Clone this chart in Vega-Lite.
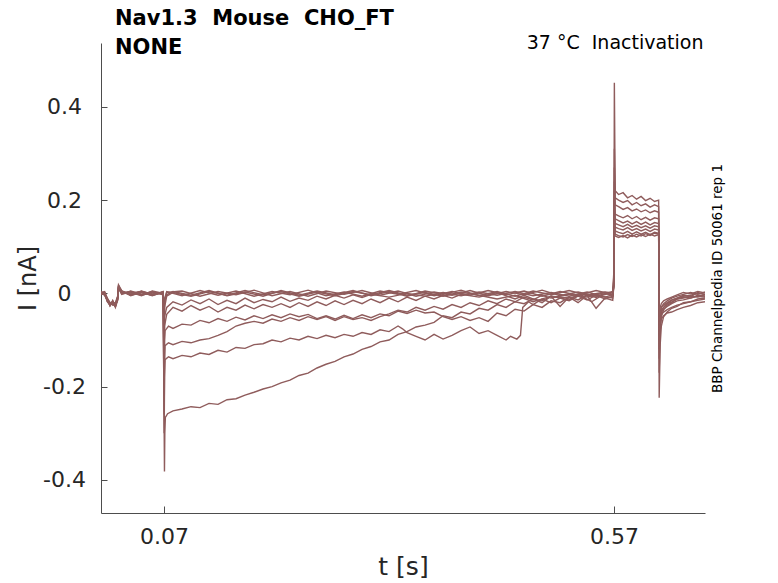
{
  "$schema": "https://vega.github.io/schema/vega-lite/v6.json",
  "width": 604,
  "height": 470,
  "autosize": {"type": "none"},
  "padding": {"left": 101, "top": 43, "right": 73, "bottom": 70},
  "background": "white",
  "config": {
    "font": "DejaVu Sans",
    "view": {"stroke": null},
    "axis": {"grid": false, "domainColor": "#4d4d4d", "tickColor": "#4d4d4d", "labelColor": "#262626", "titleColor": "#262626", "titleFontWeight": "normal"}
  },
  "title": {
    "text": ["Nav1.3\u00a0\u00a0Mouse\u00a0\u00a0CHO_FT", "NONE"],
    "anchor": "start",
    "frame": "group",
    "dx": 14,
    "offset": -42,
    "baseline": "alphabetic",
    "lineHeight": 29,
    "fontSize": 21,
    "fontWeight": "bold",
    "color": "#000000"
  },
  "datasets": {
    "sweeps": [
      {"s":1,"t":0,"i":0.002},{"s":1,"t":0.004,"i":-0.001},{"s":1,"t":0.007,"i":-0.014},{"s":1,"t":0.01,"i":-0.024},{"s":1,"t":0.013,"i":-0.017},{"s":1,"t":0.016,"i":-0.028},{"s":1,"t":0.0185,"i":-0.012},{"s":1,"t":0.0195,"i":0.014},{"s":1,"t":0.023,"i":0.004},{"s":1,"t":0.033,"i":-0.002},{"s":1,"t":0.045,"i":0.004},{"s":1,"t":0.057,"i":-0.003},{"s":1,"t":0.069,"i":0.002},
      {"s":1,"t":0.0702,"i":-0.03},{"s":1,"t":0.0706,"i":-0.012},{"s":1,"t":0.073,"i":0.004},{"s":1,"t":0.09,"i":-0.005},{"s":1,"t":0.11,"i":0.006},{"s":1,"t":0.13,"i":-0.004},{"s":1,"t":0.15,"i":0.005},{"s":1,"t":0.17,"i":-0.006},{"s":1,"t":0.19,"i":0.004},{"s":1,"t":0.21,"i":-0.003},{"s":1,"t":0.23,"i":0.007},{"s":1,"t":0.25,"i":-0.005},{"s":1,"t":0.27,"i":0.003},{"s":1,"t":0.29,"i":-0.006},{"s":1,"t":0.31,"i":0.005},{"s":1,"t":0.33,"i":-0.002},{"s":1,"t":0.35,"i":0.006},{"s":1,"t":0.37,"i":-0.005},{"s":1,"t":0.39,"i":0.004},{"s":1,"t":0.41,"i":-0.004},{"s":1,"t":0.43,"i":0.006},{"s":1,"t":0.45,"i":-0.003},{"s":1,"t":0.47,"i":0.005},{"s":1,"t":0.49,"i":-0.006},{"s":1,"t":0.51,"i":0.004},{"s":1,"t":0.53,"i":-0.004},{"s":1,"t":0.55,"i":0.006},{"s":1,"t":0.5685,"i":-0.002},
      {"s":1,"t":0.5698,"i":0.05},{"s":1,"t":0.5703,"i":0.452},{"s":1,"t":0.5712,"i":0.22},{"s":1,"t":0.575,"i":0.212},{"s":1,"t":0.58,"i":0.216},{"s":1,"t":0.585,"i":0.205},{"s":1,"t":0.59,"i":0.21},{"s":1,"t":0.595,"i":0.202},{"s":1,"t":0.6,"i":0.208},{"s":1,"t":0.605,"i":0.199},{"s":1,"t":0.61,"i":0.204},{"s":1,"t":0.615,"i":0.197},{"s":1,"t":0.6195,"i":0.2},
      {"s":1,"t":0.6201,"i":-0.224},{"s":1,"t":0.6212,"i":-0.11},{"s":1,"t":0.6225,"i":-0.07},{"s":1,"t":0.625,"i":-0.05},{"s":1,"t":0.629,"i":-0.04},{"s":1,"t":0.634,"i":-0.032},{"s":1,"t":0.64,"i":-0.028},{"s":1,"t":0.647,"i":-0.02},{"s":1,"t":0.655,"i":-0.018},{"s":1,"t":0.663,"i":-0.012},{"s":1,"t":0.671,"i":-0.01},

      {"s":2,"t":0,"i":-0.002},{"s":2,"t":0.004,"i":0.003},{"s":2,"t":0.007,"i":-0.01},{"s":2,"t":0.01,"i":-0.02},{"s":2,"t":0.013,"i":-0.022},{"s":2,"t":0.016,"i":-0.024},{"s":2,"t":0.0185,"i":-0.008},{"s":2,"t":0.0195,"i":0.01},{"s":2,"t":0.023,"i":0.001},{"s":2,"t":0.033,"i":0.004},{"s":2,"t":0.045,"i":-0.003},{"s":2,"t":0.057,"i":0.003},{"s":2,"t":0.069,"i":-0.002},
      {"s":2,"t":0.0702,"i":-0.05},{"s":2,"t":0.0706,"i":-0.015},{"s":2,"t":0.073,"i":-0.003},{"s":2,"t":0.08,"i":0.004},{"s":2,"t":0.1,"i":-0.004},{"s":2,"t":0.12,"i":0.006},{"s":2,"t":0.14,"i":-0.005},{"s":2,"t":0.16,"i":0.003},{"s":2,"t":0.18,"i":-0.006},{"s":2,"t":0.2,"i":0.006},{"s":2,"t":0.22,"i":-0.004},{"s":2,"t":0.24,"i":0.005},{"s":2,"t":0.26,"i":-0.003},{"s":2,"t":0.28,"i":0.006},{"s":2,"t":0.3,"i":-0.005},{"s":2,"t":0.32,"i":0.004},{"s":2,"t":0.34,"i":-0.006},{"s":2,"t":0.36,"i":0.005},{"s":2,"t":0.38,"i":-0.002},{"s":2,"t":0.4,"i":0.007},{"s":2,"t":0.42,"i":-0.005},{"s":2,"t":0.44,"i":0.004},{"s":2,"t":0.46,"i":-0.006},{"s":2,"t":0.48,"i":0.005},{"s":2,"t":0.5,"i":-0.003},{"s":2,"t":0.52,"i":0.006},{"s":2,"t":0.54,"i":-0.004},{"s":2,"t":0.56,"i":0.003},{"s":2,"t":0.5685,"i":0.001},
      {"s":2,"t":0.5698,"i":0.04},{"s":2,"t":0.5703,"i":0.31},{"s":2,"t":0.5712,"i":0.205},{"s":2,"t":0.575,"i":0.2},{"s":2,"t":0.58,"i":0.195},{"s":2,"t":0.585,"i":0.199},{"s":2,"t":0.59,"i":0.19},{"s":2,"t":0.595,"i":0.195},{"s":2,"t":0.6,"i":0.188},{"s":2,"t":0.605,"i":0.192},{"s":2,"t":0.61,"i":0.185},{"s":2,"t":0.615,"i":0.19},{"s":2,"t":0.6195,"i":0.186},
      {"s":2,"t":0.6201,"i":-0.17},{"s":2,"t":0.6212,"i":-0.08},{"s":2,"t":0.6225,"i":-0.05},{"s":2,"t":0.625,"i":-0.035},{"s":2,"t":0.629,"i":-0.025},{"s":2,"t":0.634,"i":-0.02},{"s":2,"t":0.64,"i":-0.012},{"s":2,"t":0.647,"i":-0.008},{"s":2,"t":0.655,"i":-0.01},{"s":2,"t":0.663,"i":-0.004},{"s":2,"t":0.671,"i":-0.006},

      {"s":3,"t":0,"i":0.004},{"s":3,"t":0.004,"i":0},{"s":3,"t":0.007,"i":-0.018},{"s":3,"t":0.01,"i":-0.026},{"s":3,"t":0.013,"i":-0.015},{"s":3,"t":0.016,"i":-0.03},{"s":3,"t":0.0185,"i":-0.015},{"s":3,"t":0.0195,"i":0.018},{"s":3,"t":0.023,"i":0.006},{"s":3,"t":0.033,"i":-0.004},{"s":3,"t":0.045,"i":0.002},{"s":3,"t":0.057,"i":-0.005},{"s":3,"t":0.069,"i":0.004},
      {"s":3,"t":0.0702,"i":-0.07},{"s":3,"t":0.0706,"i":-0.02},{"s":3,"t":0.073,"i":0.002},{"s":3,"t":0.09,"i":0.005},{"s":3,"t":0.11,"i":-0.006},{"s":3,"t":0.13,"i":0.004},{"s":3,"t":0.15,"i":-0.003},{"s":3,"t":0.17,"i":0.007},{"s":3,"t":0.19,"i":-0.005},{"s":3,"t":0.21,"i":0.004},{"s":3,"t":0.23,"i":-0.006},{"s":3,"t":0.25,"i":0.005},{"s":3,"t":0.27,"i":-0.002},{"s":3,"t":0.29,"i":0.006},{"s":3,"t":0.31,"i":-0.004},{"s":3,"t":0.33,"i":0.005},{"s":3,"t":0.35,"i":-0.006},{"s":3,"t":0.37,"i":0.003},{"s":3,"t":0.39,"i":-0.004},{"s":3,"t":0.41,"i":0.006},{"s":3,"t":0.43,"i":-0.005},{"s":3,"t":0.45,"i":0.004},{"s":3,"t":0.47,"i":-0.003},{"s":3,"t":0.49,"i":0.007},{"s":3,"t":0.51,"i":-0.005},{"s":3,"t":0.53,"i":0.003},{"s":3,"t":0.55,"i":-0.006},{"s":3,"t":0.5685,"i":0.004},
      {"s":3,"t":0.5698,"i":0.03},{"s":3,"t":0.5703,"i":0.27},{"s":3,"t":0.5712,"i":0.19},{"s":3,"t":0.575,"i":0.186},{"s":3,"t":0.58,"i":0.18},{"s":3,"t":0.585,"i":0.184},{"s":3,"t":0.59,"i":0.177},{"s":3,"t":0.595,"i":0.181},{"s":3,"t":0.6,"i":0.175},{"s":3,"t":0.605,"i":0.179},{"s":3,"t":0.61,"i":0.173},{"s":3,"t":0.615,"i":0.177},{"s":3,"t":0.6195,"i":0.174},
      {"s":3,"t":0.6201,"i":-0.14},{"s":3,"t":0.6212,"i":-0.06},{"s":3,"t":0.6225,"i":-0.04},{"s":3,"t":0.625,"i":-0.03},{"s":3,"t":0.629,"i":-0.022},{"s":3,"t":0.634,"i":-0.015},{"s":3,"t":0.64,"i":-0.01},{"s":3,"t":0.647,"i":-0.004},{"s":3,"t":0.655,"i":-0.007},{"s":3,"t":0.663,"i":0.002},{"s":3,"t":0.671,"i":-0.003},

      {"s":4,"t":0,"i":0},{"s":4,"t":0.004,"i":-0.003},{"s":4,"t":0.007,"i":-0.012},{"s":4,"t":0.01,"i":-0.02},{"s":4,"t":0.013,"i":-0.025},{"s":4,"t":0.016,"i":-0.02},{"s":4,"t":0.0185,"i":-0.006},{"s":4,"t":0.0195,"i":0.012},{"s":4,"t":0.023,"i":0},{"s":4,"t":0.033,"i":0.003},{"s":4,"t":0.045,"i":-0.004},{"s":4,"t":0.057,"i":0.002},{"s":4,"t":0.069,"i":-0.001},
      {"s":4,"t":0.0702,"i":-0.1},{"s":4,"t":0.0706,"i":-0.03},{"s":4,"t":0.073,"i":-0.006},{"s":4,"t":0.08,"i":0.002},{"s":4,"t":0.1,"i":-0.006},{"s":4,"t":0.12,"i":0.004},{"s":4,"t":0.14,"i":-0.004},{"s":4,"t":0.16,"i":0.006},{"s":4,"t":0.18,"i":-0.003},{"s":4,"t":0.2,"i":0.004},{"s":4,"t":0.22,"i":-0.006},{"s":4,"t":0.24,"i":0.003},{"s":4,"t":0.26,"i":-0.005},{"s":4,"t":0.28,"i":0.004},{"s":4,"t":0.3,"i":-0.003},{"s":4,"t":0.32,"i":0.006},{"s":4,"t":0.34,"i":-0.004},{"s":4,"t":0.36,"i":0.002},{"s":4,"t":0.38,"i":-0.006},{"s":4,"t":0.4,"i":0.003},{"s":4,"t":0.42,"i":-0.004},{"s":4,"t":0.44,"i":-0.012},{"s":4,"t":0.46,"i":-0.004},{"s":4,"t":0.48,"i":-0.018},{"s":4,"t":0.5,"i":-0.006},{"s":4,"t":0.51,"i":-0.028},{"s":4,"t":0.52,"i":-0.008},{"s":4,"t":0.53,"i":-0.02},{"s":4,"t":0.54,"i":-0.004},{"s":4,"t":0.55,"i":-0.032},{"s":4,"t":0.56,"i":-0.01},{"s":4,"t":0.5685,"i":-0.015},
      {"s":4,"t":0.5698,"i":0.02},{"s":4,"t":0.5703,"i":0.24},{"s":4,"t":0.5712,"i":0.17},{"s":4,"t":0.575,"i":0.166},{"s":4,"t":0.58,"i":0.162},{"s":4,"t":0.585,"i":0.167},{"s":4,"t":0.59,"i":0.16},{"s":4,"t":0.595,"i":0.165},{"s":4,"t":0.6,"i":0.158},{"s":4,"t":0.605,"i":0.163},{"s":4,"t":0.61,"i":0.157},{"s":4,"t":0.615,"i":0.162},{"s":4,"t":0.6195,"i":0.16},
      {"s":4,"t":0.6201,"i":-0.12},{"s":4,"t":0.6212,"i":-0.07},{"s":4,"t":0.6225,"i":-0.055},{"s":4,"t":0.625,"i":-0.048},{"s":4,"t":0.629,"i":-0.042},{"s":4,"t":0.634,"i":-0.04},{"s":4,"t":0.64,"i":-0.035},{"s":4,"t":0.647,"i":-0.03},{"s":4,"t":0.655,"i":-0.026},{"s":4,"t":0.663,"i":-0.02},{"s":4,"t":0.671,"i":-0.018},

      {"s":5,"t":0,"i":0.001},{"s":5,"t":0.004,"i":-0.004},{"s":5,"t":0.007,"i":-0.016},{"s":5,"t":0.01,"i":-0.022},{"s":5,"t":0.013,"i":-0.02},{"s":5,"t":0.016,"i":-0.026},{"s":5,"t":0.0185,"i":-0.01},{"s":5,"t":0.0195,"i":0.016},{"s":5,"t":0.023,"i":0.003},{"s":5,"t":0.033,"i":-0.003},{"s":5,"t":0.045,"i":0.005},{"s":5,"t":0.057,"i":-0.002},{"s":5,"t":0.069,"i":0.003},
      {"s":5,"t":0.0702,"i":-0.13},{"s":5,"t":0.0706,"i":-0.05},{"s":5,"t":0.073,"i":-0.03},{"s":5,"t":0.08,"i":-0.018},{"s":5,"t":0.09,"i":-0.025},{"s":5,"t":0.1,"i":-0.014},{"s":5,"t":0.11,"i":-0.022},{"s":5,"t":0.12,"i":-0.012},{"s":5,"t":0.13,"i":-0.024},{"s":5,"t":0.14,"i":-0.015},{"s":5,"t":0.15,"i":-0.022},{"s":5,"t":0.16,"i":-0.01},{"s":5,"t":0.17,"i":-0.02},{"s":5,"t":0.18,"i":-0.013},{"s":5,"t":0.19,"i":-0.018},{"s":5,"t":0.2,"i":-0.008},{"s":5,"t":0.21,"i":-0.017},{"s":5,"t":0.22,"i":-0.01},{"s":5,"t":0.23,"i":-0.015},{"s":5,"t":0.24,"i":-0.006},{"s":5,"t":0.25,"i":-0.012},{"s":5,"t":0.26,"i":-0.004},{"s":5,"t":0.27,"i":-0.01},{"s":5,"t":0.28,"i":-0.003},{"s":5,"t":0.29,"i":-0.009},{"s":5,"t":0.3,"i":-0.002},{"s":5,"t":0.32,"i":-0.008},{"s":5,"t":0.34,"i":0},{"s":5,"t":0.36,"i":-0.006},{"s":5,"t":0.38,"i":0.002},{"s":5,"t":0.4,"i":-0.005},{"s":5,"t":0.42,"i":0.003},{"s":5,"t":0.44,"i":-0.004},{"s":5,"t":0.46,"i":0.004},{"s":5,"t":0.48,"i":-0.005},{"s":5,"t":0.5,"i":0.002},{"s":5,"t":0.52,"i":-0.006},{"s":5,"t":0.54,"i":0.003},{"s":5,"t":0.555,"i":-0.005},{"s":5,"t":0.5685,"i":0.002},
      {"s":5,"t":0.5698,"i":0.02},{"s":5,"t":0.5703,"i":0.22},{"s":5,"t":0.5712,"i":0.16},{"s":5,"t":0.575,"i":0.156},{"s":5,"t":0.58,"i":0.151},{"s":5,"t":0.585,"i":0.155},{"s":5,"t":0.59,"i":0.149},{"s":5,"t":0.595,"i":0.154},{"s":5,"t":0.6,"i":0.148},{"s":5,"t":0.605,"i":0.153},{"s":5,"t":0.61,"i":0.147},{"s":5,"t":0.615,"i":0.152},{"s":5,"t":0.6195,"i":0.15},
      {"s":5,"t":0.6201,"i":-0.1},{"s":5,"t":0.6212,"i":-0.05},{"s":5,"t":0.6225,"i":-0.035},{"s":5,"t":0.625,"i":-0.03},{"s":5,"t":0.629,"i":-0.022},{"s":5,"t":0.634,"i":-0.018},{"s":5,"t":0.64,"i":-0.012},{"s":5,"t":0.647,"i":-0.01},{"s":5,"t":0.655,"i":-0.006},{"s":5,"t":0.663,"i":-0.008},{"s":5,"t":0.671,"i":-0.003},

      {"s":6,"t":0,"i":-0.003},{"s":6,"t":0.004,"i":0.002},{"s":6,"t":0.007,"i":-0.011},{"s":6,"t":0.01,"i":-0.025},{"s":6,"t":0.013,"i":-0.019},{"s":6,"t":0.016,"i":-0.022},{"s":6,"t":0.0185,"i":-0.009},{"s":6,"t":0.0195,"i":0.011},{"s":6,"t":0.023,"i":-0.002},{"s":6,"t":0.033,"i":0.005},{"s":6,"t":0.045,"i":-0.002},{"s":6,"t":0.057,"i":0.004},{"s":6,"t":0.069,"i":-0.003},
      {"s":6,"t":0.0702,"i":-0.16},{"s":6,"t":0.0706,"i":-0.07},{"s":6,"t":0.073,"i":-0.045},{"s":6,"t":0.08,"i":-0.03},{"s":6,"t":0.09,"i":-0.038},{"s":6,"t":0.1,"i":-0.026},{"s":6,"t":0.11,"i":-0.036},{"s":6,"t":0.12,"i":-0.028},{"s":6,"t":0.13,"i":-0.04},{"s":6,"t":0.14,"i":-0.03},{"s":6,"t":0.15,"i":-0.036},{"s":6,"t":0.16,"i":-0.025},{"s":6,"t":0.17,"i":-0.033},{"s":6,"t":0.18,"i":-0.024},{"s":6,"t":0.19,"i":-0.03},{"s":6,"t":0.2,"i":-0.022},{"s":6,"t":0.21,"i":-0.03},{"s":6,"t":0.22,"i":-0.02},{"s":6,"t":0.23,"i":-0.028},{"s":6,"t":0.24,"i":-0.018},{"s":6,"t":0.25,"i":-0.026},{"s":6,"t":0.26,"i":-0.016},{"s":6,"t":0.27,"i":-0.024},{"s":6,"t":0.28,"i":-0.015},{"s":6,"t":0.29,"i":-0.022},{"s":6,"t":0.3,"i":-0.012},{"s":6,"t":0.31,"i":-0.02},{"s":6,"t":0.32,"i":-0.01},{"s":6,"t":0.33,"i":-0.018},{"s":6,"t":0.34,"i":-0.008},{"s":6,"t":0.35,"i":-0.015},{"s":6,"t":0.36,"i":-0.006},{"s":6,"t":0.37,"i":-0.012},{"s":6,"t":0.38,"i":-0.004},{"s":6,"t":0.39,"i":-0.01},{"s":6,"t":0.4,"i":-0.002},{"s":6,"t":0.42,"i":-0.008},{"s":6,"t":0.44,"i":0.002},{"s":6,"t":0.46,"i":-0.012},{"s":6,"t":0.47,"i":-0.004},{"s":6,"t":0.49,"i":-0.02},{"s":6,"t":0.5,"i":-0.006},{"s":6,"t":0.52,"i":-0.014},{"s":6,"t":0.53,"i":-0.002},{"s":6,"t":0.545,"i":-0.018},{"s":6,"t":0.555,"i":-0.006},{"s":6,"t":0.5685,"i":-0.01},
      {"s":6,"t":0.5698,"i":0.02},{"s":6,"t":0.5703,"i":0.2},{"s":6,"t":0.5712,"i":0.15},{"s":6,"t":0.575,"i":0.147},{"s":6,"t":0.58,"i":0.143},{"s":6,"t":0.585,"i":0.148},{"s":6,"t":0.59,"i":0.142},{"s":6,"t":0.595,"i":0.146},{"s":6,"t":0.6,"i":0.141},{"s":6,"t":0.605,"i":0.145},{"s":6,"t":0.61,"i":0.14},{"s":6,"t":0.615,"i":0.145},{"s":6,"t":0.6195,"i":0.143},
      {"s":6,"t":0.6201,"i":-0.09},{"s":6,"t":0.6212,"i":-0.06},{"s":6,"t":0.6225,"i":-0.045},{"s":6,"t":0.625,"i":-0.04},{"s":6,"t":0.629,"i":-0.035},{"s":6,"t":0.634,"i":-0.03},{"s":6,"t":0.64,"i":-0.025},{"s":6,"t":0.647,"i":-0.022},{"s":6,"t":0.655,"i":-0.018},{"s":6,"t":0.663,"i":-0.015},{"s":6,"t":0.671,"i":-0.012},

      {"s":7,"t":0,"i":0.003},{"s":7,"t":0.004,"i":-0.002},{"s":7,"t":0.007,"i":-0.015},{"s":7,"t":0.01,"i":-0.021},{"s":7,"t":0.013,"i":-0.024},{"s":7,"t":0.016,"i":-0.027},{"s":7,"t":0.0185,"i":-0.011},{"s":7,"t":0.0195,"i":0.013},{"s":7,"t":0.023,"i":0.005},{"s":7,"t":0.033,"i":-0.005},{"s":7,"t":0.045,"i":0.003},{"s":7,"t":0.057,"i":-0.004},{"s":7,"t":0.069,"i":0.001},
      {"s":7,"t":0.0702,"i":-0.2},{"s":7,"t":0.0706,"i":-0.1},{"s":7,"t":0.0712,"i":-0.08},{"s":7,"t":0.075,"i":-0.07},{"s":7,"t":0.08,"i":-0.075},{"s":7,"t":0.09,"i":-0.066},{"s":7,"t":0.1,"i":-0.068},{"s":7,"t":0.11,"i":-0.058},{"s":7,"t":0.12,"i":-0.063},{"s":7,"t":0.13,"i":-0.054},{"s":7,"t":0.14,"i":-0.06},{"s":7,"t":0.15,"i":-0.051},{"s":7,"t":0.16,"i":-0.057},{"s":7,"t":0.17,"i":-0.048},{"s":7,"t":0.18,"i":-0.054},{"s":7,"t":0.19,"i":-0.046},{"s":7,"t":0.2,"i":-0.052},{"s":7,"t":0.21,"i":-0.044},{"s":7,"t":0.22,"i":-0.05},{"s":7,"t":0.23,"i":-0.045},{"s":7,"t":0.24,"i":-0.054},{"s":7,"t":0.25,"i":-0.048},{"s":7,"t":0.26,"i":-0.055},{"s":7,"t":0.27,"i":-0.047},{"s":7,"t":0.28,"i":-0.054},{"s":7,"t":0.29,"i":-0.046},{"s":7,"t":0.3,"i":-0.052},{"s":7,"t":0.31,"i":-0.044},{"s":7,"t":0.32,"i":-0.048},{"s":7,"t":0.33,"i":-0.038},{"s":7,"t":0.34,"i":-0.043},{"s":7,"t":0.35,"i":-0.036},{"s":7,"t":0.36,"i":-0.042},{"s":7,"t":0.37,"i":-0.04},{"s":7,"t":0.38,"i":-0.05},{"s":7,"t":0.39,"i":-0.056},{"s":7,"t":0.4,"i":-0.05},{"s":7,"t":0.41,"i":-0.058},{"s":7,"t":0.42,"i":-0.052},{"s":7,"t":0.43,"i":-0.06},{"s":7,"t":0.44,"i":-0.042},{"s":7,"t":0.45,"i":-0.048},{"s":7,"t":0.46,"i":-0.034},{"s":7,"t":0.47,"i":-0.038},{"s":7,"t":0.48,"i":-0.024},{"s":7,"t":0.49,"i":-0.03},{"s":7,"t":0.5,"i":-0.016},{"s":7,"t":0.51,"i":-0.02},{"s":7,"t":0.52,"i":-0.008},{"s":7,"t":0.53,"i":-0.014},{"s":7,"t":0.54,"i":-0.003},{"s":7,"t":0.55,"i":-0.009},{"s":7,"t":0.56,"i":0},{"s":7,"t":0.5685,"i":-0.005},
      {"s":7,"t":0.5698,"i":0.02},{"s":7,"t":0.5703,"i":0.18},{"s":7,"t":0.5712,"i":0.142},{"s":7,"t":0.575,"i":0.139},{"s":7,"t":0.58,"i":0.136},{"s":7,"t":0.585,"i":0.141},{"s":7,"t":0.59,"i":0.135},{"s":7,"t":0.595,"i":0.139},{"s":7,"t":0.6,"i":0.134},{"s":7,"t":0.605,"i":0.138},{"s":7,"t":0.61,"i":0.133},{"s":7,"t":0.615,"i":0.138},{"s":7,"t":0.6195,"i":0.136},
      {"s":7,"t":0.6201,"i":-0.08},{"s":7,"t":0.6212,"i":-0.05},{"s":7,"t":0.6225,"i":-0.04},{"s":7,"t":0.625,"i":-0.034},{"s":7,"t":0.629,"i":-0.028},{"s":7,"t":0.634,"i":-0.022},{"s":7,"t":0.64,"i":-0.016},{"s":7,"t":0.647,"i":-0.014},{"s":7,"t":0.655,"i":-0.01},{"s":7,"t":0.663,"i":-0.006},{"s":7,"t":0.671,"i":-0.008},

      {"s":8,"t":0,"i":-0.001},{"s":8,"t":0.004,"i":0.001},{"s":8,"t":0.007,"i":-0.013},{"s":8,"t":0.01,"i":-0.027},{"s":8,"t":0.013,"i":-0.016},{"s":8,"t":0.016,"i":-0.025},{"s":8,"t":0.0185,"i":-0.014},{"s":8,"t":0.0195,"i":0.015},{"s":8,"t":0.023,"i":0.002},{"s":8,"t":0.033,"i":0.002},{"s":8,"t":0.045,"i":-0.005},{"s":8,"t":0.057,"i":0.005},{"s":8,"t":0.069,"i":0},
      {"s":8,"t":0.0702,"i":-0.26},{"s":8,"t":0.0706,"i":-0.15},{"s":8,"t":0.0712,"i":-0.112},{"s":8,"t":0.075,"i":-0.106},{"s":8,"t":0.08,"i":-0.11},{"s":8,"t":0.09,"i":-0.103},{"s":8,"t":0.1,"i":-0.106},{"s":8,"t":0.11,"i":-0.1},{"s":8,"t":0.12,"i":-0.097},{"s":8,"t":0.13,"i":-0.09},{"s":8,"t":0.14,"i":-0.082},{"s":8,"t":0.15,"i":-0.07},{"s":8,"t":0.16,"i":-0.064},{"s":8,"t":0.17,"i":-0.06},{"s":8,"t":0.18,"i":-0.064},{"s":8,"t":0.19,"i":-0.055},{"s":8,"t":0.2,"i":-0.06},{"s":8,"t":0.21,"i":-0.052},{"s":8,"t":0.22,"i":-0.058},{"s":8,"t":0.23,"i":-0.05},{"s":8,"t":0.24,"i":-0.056},{"s":8,"t":0.25,"i":-0.05},{"s":8,"t":0.26,"i":-0.058},{"s":8,"t":0.27,"i":-0.05},{"s":8,"t":0.28,"i":-0.056},{"s":8,"t":0.29,"i":-0.052},{"s":8,"t":0.3,"i":-0.058},{"s":8,"t":0.31,"i":-0.05},{"s":8,"t":0.32,"i":-0.044},{"s":8,"t":0.33,"i":-0.036},{"s":8,"t":0.34,"i":-0.04},{"s":8,"t":0.35,"i":-0.03},{"s":8,"t":0.36,"i":-0.036},{"s":8,"t":0.37,"i":-0.028},{"s":8,"t":0.38,"i":-0.034},{"s":8,"t":0.39,"i":-0.024},{"s":8,"t":0.4,"i":-0.03},{"s":8,"t":0.41,"i":-0.02},{"s":8,"t":0.42,"i":-0.026},{"s":8,"t":0.43,"i":-0.016},{"s":8,"t":0.44,"i":-0.022},{"s":8,"t":0.45,"i":-0.012},{"s":8,"t":0.46,"i":-0.018},{"s":8,"t":0.47,"i":-0.008},{"s":8,"t":0.48,"i":-0.014},{"s":8,"t":0.49,"i":-0.004},{"s":8,"t":0.5,"i":-0.01},{"s":8,"t":0.52,"i":-0.002},{"s":8,"t":0.54,"i":-0.008},{"s":8,"t":0.56,"i":0.002},{"s":8,"t":0.5685,"i":-0.004},
      {"s":8,"t":0.5698,"i":0.02},{"s":8,"t":0.5703,"i":0.17},{"s":8,"t":0.5712,"i":0.134},{"s":8,"t":0.575,"i":0.131},{"s":8,"t":0.58,"i":0.128},{"s":8,"t":0.585,"i":0.133},{"s":8,"t":0.59,"i":0.127},{"s":8,"t":0.595,"i":0.132},{"s":8,"t":0.6,"i":0.127},{"s":8,"t":0.605,"i":0.131},{"s":8,"t":0.61,"i":0.126},{"s":8,"t":0.615,"i":0.131},{"s":8,"t":0.6195,"i":0.129},
      {"s":8,"t":0.6201,"i":-0.07},{"s":8,"t":0.6212,"i":-0.045},{"s":8,"t":0.6225,"i":-0.03},{"s":8,"t":0.625,"i":-0.025},{"s":8,"t":0.629,"i":-0.02},{"s":8,"t":0.634,"i":-0.014},{"s":8,"t":0.64,"i":-0.01},{"s":8,"t":0.647,"i":-0.006},{"s":8,"t":0.655,"i":-0.004},{"s":8,"t":0.663,"i":0},{"s":8,"t":0.671,"i":-0.002},

      {"s":9,"t":0,"i":0.002},{"s":9,"t":0.004,"i":0.004},{"s":9,"t":0.007,"i":-0.017},{"s":9,"t":0.01,"i":-0.023},{"s":9,"t":0.013,"i":-0.021},{"s":9,"t":0.016,"i":-0.029},{"s":9,"t":0.0185,"i":-0.007},{"s":9,"t":0.0195,"i":0.017},{"s":9,"t":0.023,"i":-0.001},{"s":9,"t":0.033,"i":0.001},{"s":9,"t":0.045,"i":0.004},{"s":9,"t":0.057,"i":-0.001},{"s":9,"t":0.069,"i":0.002},
      {"s":9,"t":0.0702,"i":-0.3},{"s":9,"t":0.0706,"i":-0.18},{"s":9,"t":0.0712,"i":-0.142},{"s":9,"t":0.075,"i":-0.136},{"s":9,"t":0.08,"i":-0.14},{"s":9,"t":0.09,"i":-0.133},{"s":9,"t":0.1,"i":-0.136},{"s":9,"t":0.11,"i":-0.128},{"s":9,"t":0.12,"i":-0.131},{"s":9,"t":0.13,"i":-0.122},{"s":9,"t":0.14,"i":-0.126},{"s":9,"t":0.15,"i":-0.116},{"s":9,"t":0.16,"i":-0.118},{"s":9,"t":0.17,"i":-0.11},{"s":9,"t":0.18,"i":-0.108},{"s":9,"t":0.19,"i":-0.1},{"s":9,"t":0.2,"i":-0.104},{"s":9,"t":0.21,"i":-0.096},{"s":9,"t":0.22,"i":-0.1},{"s":9,"t":0.23,"i":-0.092},{"s":9,"t":0.24,"i":-0.097},{"s":9,"t":0.25,"i":-0.09},{"s":9,"t":0.26,"i":-0.095},{"s":9,"t":0.27,"i":-0.088},{"s":9,"t":0.28,"i":-0.092},{"s":9,"t":0.29,"i":-0.084},{"s":9,"t":0.3,"i":-0.088},{"s":9,"t":0.31,"i":-0.078},{"s":9,"t":0.32,"i":-0.082},{"s":9,"t":0.33,"i":-0.07},{"s":9,"t":0.335,"i":-0.076},{"s":9,"t":0.34,"i":-0.084},{"s":9,"t":0.35,"i":-0.092},{"s":9,"t":0.36,"i":-0.1},{"s":9,"t":0.37,"i":-0.088},{"s":9,"t":0.38,"i":-0.098},{"s":9,"t":0.39,"i":-0.09},{"s":9,"t":0.4,"i":-0.08},{"s":9,"t":0.41,"i":-0.072},{"s":9,"t":0.42,"i":-0.086},{"s":9,"t":0.43,"i":-0.08},{"s":9,"t":0.44,"i":-0.09},{"s":9,"t":0.45,"i":-0.1},{"s":9,"t":0.455,"i":-0.092},{"s":9,"t":0.462,"i":-0.098},{"s":9,"t":0.466,"i":-0.09},{"s":9,"t":0.4685,"i":-0.03},{"s":9,"t":0.475,"i":-0.018},{"s":9,"t":0.48,"i":-0.024},{"s":9,"t":0.49,"i":-0.012},{"s":9,"t":0.5,"i":-0.02},{"s":9,"t":0.51,"i":-0.01},{"s":9,"t":0.52,"i":-0.016},{"s":9,"t":0.53,"i":-0.006},{"s":9,"t":0.54,"i":-0.014},{"s":9,"t":0.55,"i":-0.004},{"s":9,"t":0.56,"i":-0.012},{"s":9,"t":0.5685,"i":-0.006},
      {"s":9,"t":0.5698,"i":0.02},{"s":9,"t":0.5703,"i":0.16},{"s":9,"t":0.5712,"i":0.127},{"s":9,"t":0.575,"i":0.124},{"s":9,"t":0.58,"i":0.121},{"s":9,"t":0.585,"i":0.126},{"s":9,"t":0.59,"i":0.122},{"s":9,"t":0.595,"i":0.127},{"s":9,"t":0.6,"i":0.123},{"s":9,"t":0.605,"i":0.128},{"s":9,"t":0.61,"i":0.124},{"s":9,"t":0.615,"i":0.129},{"s":9,"t":0.6195,"i":0.127},
      {"s":9,"t":0.6201,"i":-0.06},{"s":9,"t":0.6212,"i":-0.04},{"s":9,"t":0.6225,"i":-0.03},{"s":9,"t":0.625,"i":-0.022},{"s":9,"t":0.629,"i":-0.016},{"s":9,"t":0.634,"i":-0.01},{"s":9,"t":0.64,"i":-0.006},{"s":9,"t":0.647,"i":-0.002},{"s":9,"t":0.655,"i":0.002},{"s":9,"t":0.663,"i":-0.002},{"s":9,"t":0.671,"i":0.003},

      {"s":10,"t":0,"i":-0.002},{"s":10,"t":0.004,"i":0},{"s":10,"t":0.007,"i":-0.012},{"s":10,"t":0.01,"i":-0.026},{"s":10,"t":0.013,"i":-0.018},{"s":10,"t":0.016,"i":-0.023},{"s":10,"t":0.0185,"i":-0.013},{"s":10,"t":0.0195,"i":0.012},{"s":10,"t":0.023,"i":0.004},{"s":10,"t":0.033,"i":-0.001},{"s":10,"t":0.045,"i":0.002},{"s":10,"t":0.057,"i":-0.004},{"s":10,"t":0.069,"i":0.003},
      {"s":10,"t":0.0702,"i":-0.3},{"s":10,"t":0.0705,"i":-0.382},{"s":10,"t":0.0709,"i":-0.3},{"s":10,"t":0.0715,"i":-0.266},{"s":10,"t":0.074,"i":-0.258},{"s":10,"t":0.08,"i":-0.252},{"s":10,"t":0.09,"i":-0.248},{"s":10,"t":0.1,"i":-0.243},{"s":10,"t":0.11,"i":-0.245},{"s":10,"t":0.12,"i":-0.236},{"s":10,"t":0.13,"i":-0.238},{"s":10,"t":0.14,"i":-0.228},{"s":10,"t":0.15,"i":-0.226},{"s":10,"t":0.16,"i":-0.218},{"s":10,"t":0.17,"i":-0.212},{"s":10,"t":0.18,"i":-0.205},{"s":10,"t":0.19,"i":-0.2},{"s":10,"t":0.2,"i":-0.192},{"s":10,"t":0.21,"i":-0.186},{"s":10,"t":0.22,"i":-0.176},{"s":10,"t":0.23,"i":-0.171},{"s":10,"t":0.24,"i":-0.16},{"s":10,"t":0.25,"i":-0.152},{"s":10,"t":0.26,"i":-0.146},{"s":10,"t":0.27,"i":-0.136},{"s":10,"t":0.28,"i":-0.13},{"s":10,"t":0.29,"i":-0.12},{"s":10,"t":0.3,"i":-0.114},{"s":10,"t":0.31,"i":-0.104},{"s":10,"t":0.32,"i":-0.1},{"s":10,"t":0.33,"i":-0.088},{"s":10,"t":0.34,"i":-0.082},{"s":10,"t":0.35,"i":-0.072},{"s":10,"t":0.36,"i":-0.068},{"s":10,"t":0.37,"i":-0.062},{"s":10,"t":0.38,"i":-0.048},{"s":10,"t":0.39,"i":-0.052},{"s":10,"t":0.4,"i":-0.04},{"s":10,"t":0.41,"i":-0.044},{"s":10,"t":0.42,"i":-0.032},{"s":10,"t":0.43,"i":-0.036},{"s":10,"t":0.44,"i":-0.024},{"s":10,"t":0.45,"i":-0.03},{"s":10,"t":0.46,"i":-0.018},{"s":10,"t":0.47,"i":-0.022},{"s":10,"t":0.48,"i":-0.012},{"s":10,"t":0.49,"i":-0.016},{"s":10,"t":0.5,"i":-0.006},{"s":10,"t":0.52,"i":-0.01},{"s":10,"t":0.54,"i":-0.002},{"s":10,"t":0.56,"i":-0.008},{"s":10,"t":0.5685,"i":-0.003},
      {"s":10,"t":0.5698,"i":0.02},{"s":10,"t":0.5703,"i":0.15},{"s":10,"t":0.5712,"i":0.123},{"s":10,"t":0.575,"i":0.12},{"s":10,"t":0.58,"i":0.124},{"s":10,"t":0.585,"i":0.119},{"s":10,"t":0.59,"i":0.125},{"s":10,"t":0.595,"i":0.121},{"s":10,"t":0.6,"i":0.126},{"s":10,"t":0.605,"i":0.122},{"s":10,"t":0.61,"i":0.127},{"s":10,"t":0.615,"i":0.123},{"s":10,"t":0.6195,"i":0.126},
      {"s":10,"t":0.6201,"i":-0.05},{"s":10,"t":0.6212,"i":-0.03},{"s":10,"t":0.6225,"i":-0.022},{"s":10,"t":0.625,"i":-0.016},{"s":10,"t":0.629,"i":-0.012},{"s":10,"t":0.634,"i":-0.008},{"s":10,"t":0.64,"i":-0.003},{"s":10,"t":0.647,"i":0.002},{"s":10,"t":0.655,"i":-0.001},{"s":10,"t":0.663,"i":0.004},{"s":10,"t":0.671,"i":0.001}
    ]
  },
  "data": {"name": "sweeps"},
  "layer": [
    {
      "mark": {"type": "line", "color": "#8f5c5c", "strokeWidth": 1.4, "clip": true},
      "encoding": {
        "x": {
          "field": "t",
          "type": "quantitative",
          "scale": {"domain": [0, 0.671], "nice": false, "zero": false},
          "axis": {
            "orient": "bottom",
            "title": "t [s]",
            "values": [0.07, 0.57],
            "format": ".2f",
            "labelFontSize": 22,
            "labelPadding": 20,
            "labelBaseline": "top",
            "tickSize": -7,
            "titleFontSize": 25,
            "titleY": 61,
            "titleBaseline": "alphabetic"
          }
        },
        "y": {
          "field": "i",
          "type": "quantitative",
          "scale": {"domain": [-0.471, 0.537], "nice": false, "zero": false},
          "axis": {
            "orient": "left",
            "title": "I [nA]",
            "values": [-0.4, -0.2, 0, 0.2, 0.4],
            "labelExpr": "'' + datum.value",
            "labelFontSize": 22,
            "labelAlign": "center",
            "labelBaseline": "middle",
            "labelPadding": 43,
            "tickSize": -6,
            "titleFontSize": 24,
            "titleAngle": 270,
            "titleX": -73,
            "titleY": 235,
            "titleAlign": "center",
            "titleBaseline": "middle"
          }
        },
        "detail": {"field": "s", "type": "nominal"}
      }
    },
    {
      "transform": [{"filter": "false"}],
      "mark": {"type": "line"},
      "encoding": {
        "x": {
          "field": "t",
          "type": "quantitative",
          "scale": {"domain": [0, 0.671], "nice": false, "zero": false},
          "axis": {
            "orient": "top",
            "title": "37 °C\u00a0\u00a0Inactivation",
            "domain": false,
            "ticks": false,
            "labels": false,
            "titleFontSize": 19,
            "titleColor": "#000000",
            "titleX": 602,
            "titleY": 5,
            "titleAlign": "right",
            "titleAnchor": "end",
            "titleBaseline": "alphabetic"
          }
        },
        "y": {
          "field": "i",
          "type": "quantitative",
          "scale": {"domain": [-0.471, 0.537], "nice": false, "zero": false},
          "axis": {
            "orient": "right",
            "title": "BBP Channelpedia ID 50061 rep 1",
            "domain": false,
            "ticks": false,
            "labels": false,
            "titleFontSize": 13.5,
            "titleColor": "#000000",
            "titleAngle": 270,
            "titleX": 12,
            "titleY": 235,
            "titleAlign": "center",
            "titleBaseline": "middle"
          }
        }
      }
    }
  ]
}
